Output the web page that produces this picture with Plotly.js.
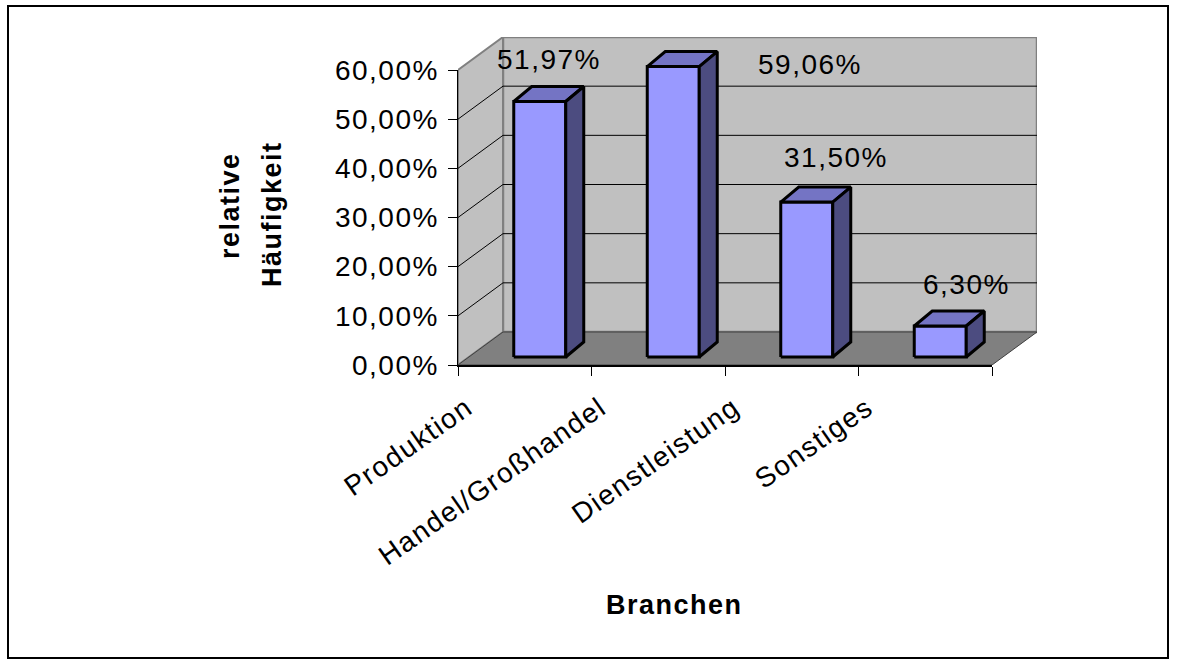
<!DOCTYPE html>
<html>
<head>
<meta charset="utf-8">
<script src="https://cdn.plot.ly/plotly-3.0.1.min.js"></script>
<style>
  html, body { margin: 0; padding: 0; background: #ffffff; }
  #chart { width: 1180px; height: 666px; }
  svg text { letter-spacing: 1.5px; }
</style>
</head>
<body>
<div id="chart"></div>
<script>
// ---- data ----
const categories = ['Produktion', 'Handel/Großhandel', 'Dienstleistung', 'Sonstiges'];
const values = [51.97, 59.06, 31.50, 6.30];
const valueLabels = ['51,97%', '59,06%', '31,50%', '6,30%'];
const yTickVals = [0, 10, 20, 30, 40, 50, 60];
const yTickText = ['0,00%', '10,00%', '20,00%', '30,00%', '40,00%', '50,00%', '60,00%'];
const xTitle = 'Branchen';
const yTitleLines = ['relative', 'Häufigkeit'];

// ---- layout geometry (pixels, style only) ----
const W = 1180, H = 666;
const G = {
  left: 458, right: 992, base: 365, top: 70,
  depthX: 45, depthY: 33,
  barShiftX: 15, barLiftY: 8, barHalfW: 26, barDepthX: 18, barDepthY: 15
};
const labelShiftX = [0, 128, 20, 17];
const labelShiftY = [27, -13, 30, 27];

const n = categories.length;
const yMax = yTickVals[yTickVals.length - 1];
const pxCat = (G.right - G.left) / n;
const pxPct = (G.base - G.top) / yMax;
const dxu = G.depthX / pxCat, dyu = G.depthY / pxPct;
const fxu = G.barShiftX / pxCat, fyu = G.barLiftY / pxPct;
const hw = G.barHalfW / pxCat;
const bdx = G.barDepthX / pxCat, bdy = G.barDepthY / pxPct;
const x0 = -0.5, x1 = n - 0.5;

const FONT = 'Arial, "Liberation Sans", sans-serif';
const traces = [];
function poly(xs, ys, fill, lineColor, lineWidth) {
  traces.push({
    type: 'scatter', mode: 'lines', x: xs.concat([xs[0]]), y: ys.concat([ys[0]]),
    fill: 'toself', fillcolor: fill,
    line: { color: lineColor, width: lineWidth },
    xaxis: 'x', yaxis: 'y', hoverinfo: 'skip', showlegend: false
  });
}

// back wall
poly([x0 + dxu, x1 + dxu, x1 + dxu, x0 + dxu], [dyu, dyu, yMax + dyu, yMax + dyu], '#c0c0c0', '#808080', 2.5);
// left wall
poly([x0, x0 + dxu, x0 + dxu, x0], [0, dyu, yMax + dyu, yMax], '#c0c0c0', '#808080', 2);
// floor
poly([x0, x1, x1 + dxu, x0 + dxu], [0, 0, dyu, dyu], '#808080', '#404040', 1);

// gridlines (back wall + left wall diagonals)
const gx = [], gy = [];
yTickVals.slice(1, -1).forEach(v => {
  gx.push(x0, x0 + dxu, x1 + dxu, null);
  gy.push(v, v + dyu, v + dyu, null);
});
traces.push({
  type: 'scatter', mode: 'lines', x: gx, y: gy, connectgaps: false,
  line: { color: '#000000', width: 1 }, xaxis: 'x', yaxis: 'y',
  hoverinfo: 'skip', showlegend: false
});

// bars (front, top, side faces)
values.forEach((v, i) => {
  const l = i + fxu - hw, r = i + fxu + hw;
  const b = fyu, t = v + fyu;
  poly([l, r, r, l], [b, b, t, t], '#9999ff', '#000000', 3);
  poly([l, r, r + bdx, l + bdx], [t, t, t + bdy, t + bdy], '#7474c4', '#000000', 3);
  poly([r, r + bdx, r + bdx, r], [b, b + bdy, t + bdy, t], '#4c4c80', '#000000', 3);
});

// invisible trace for the visible category axes
traces.push({
  type: 'scatter', mode: 'markers', x: categories, y: values,
  marker: { opacity: 0, size: 1 }, xaxis: 'x2', yaxis: 'y2',
  hoverinfo: 'skip', showlegend: false
});

// data labels
const annotations = values.map((v, i) => ({
  x: i + fxu + bdx / 2, y: v + fyu + bdy, xref: 'x', yref: 'y',
  text: valueLabels[i], showarrow: false,
  xanchor: 'center', yanchor: 'middle',
  xshift: labelShiftX[i], yshift: labelShiftY[i],
  font: { family: FONT, size: 28, color: '#000000' }
}));

// axis titles
annotations.push({
  xref: 'paper', yref: 'paper', x: 230 / W, y: 1 - 206 / H,
  text: '<b>' + yTitleLines[0] + '</b>', textangle: -90, showarrow: false,
  xanchor: 'center', yanchor: 'middle',
  font: { family: FONT, size: 27, color: '#000000' }
});
annotations.push({
  xref: 'paper', yref: 'paper', x: 272 / W, y: 1 - 214 / H,
  text: '<b>' + yTitleLines[1] + '</b>', textangle: -90, showarrow: false,
  xanchor: 'center', yanchor: 'middle',
  font: { family: FONT, size: 27, color: '#000000' }
});
annotations.push({
  xref: 'paper', yref: 'paper', x: 674 / W, y: 1 - 605 / H,
  text: '<b>' + xTitle + '</b>', showarrow: false,
  xanchor: 'center', yanchor: 'middle',
  font: { family: FONT, size: 27, color: '#000000' }
});

const layout = {
  width: W, height: H,
  margin: { l: 0, r: 0, t: 0, b: 0, pad: 0 },
  paper_bgcolor: '#ffffff', plot_bgcolor: 'rgba(0,0,0,0)',
  showlegend: false,
  xaxis: {
    domain: [G.left / W, (G.right + G.depthX) / W],
    range: [x0, x1 + dxu], visible: false, fixedrange: true
  },
  yaxis: {
    domain: [1 - G.base / H, 1 - (G.top - G.depthY) / H],
    range: [0, yMax + dyu], visible: false, fixedrange: true
  },
  xaxis2: {
    domain: [G.left / W, G.right / W], anchor: 'y2',
    type: 'category', categoryarray: categories, categoryorder: 'array',
    range: [x0, x1], tickson: 'boundaries',
    showline: true, linecolor: '#000000', linewidth: 1.5,
    ticks: 'outside', ticklen: 9, tickcolor: '#000000', tickwidth: 1,
    tickangle: -35, ticklabelshift: -58, ticklabelstandoff: 14,
    showgrid: false, zeroline: false, automargin: false,
    tickfont: { family: FONT, size: 28, color: '#000000' }, fixedrange: true
  },
  yaxis2: {
    domain: [1 - G.base / H, 1 - G.top / H], anchor: 'x2',
    range: [0, yMax], tickmode: 'array', tickvals: yTickVals, ticktext: yTickText,
    showline: true, linecolor: '#000000', linewidth: 1.5,
    ticks: 'outside', ticklen: 9, tickcolor: '#000000', tickwidth: 1,
    ticklabelstandoff: 3,
    showgrid: false, zeroline: false, automargin: false,
    tickfont: { family: FONT, size: 28, color: '#000000' }, fixedrange: true
  },
  shapes: [{
    type: 'rect', xref: 'paper', yref: 'paper',
    x0: 8 / W, x1: 1168 / W, y0: 1 - 658 / H, y1: 1 - 6 / H,
    line: { color: '#000000', width: 2 }, fillcolor: 'rgba(0,0,0,0)', layer: 'below'
  }],
  annotations: annotations
};

Plotly.newPlot('chart', traces, layout, { displayModeBar: false, staticPlot: true });
</script>
</body>
</html>
